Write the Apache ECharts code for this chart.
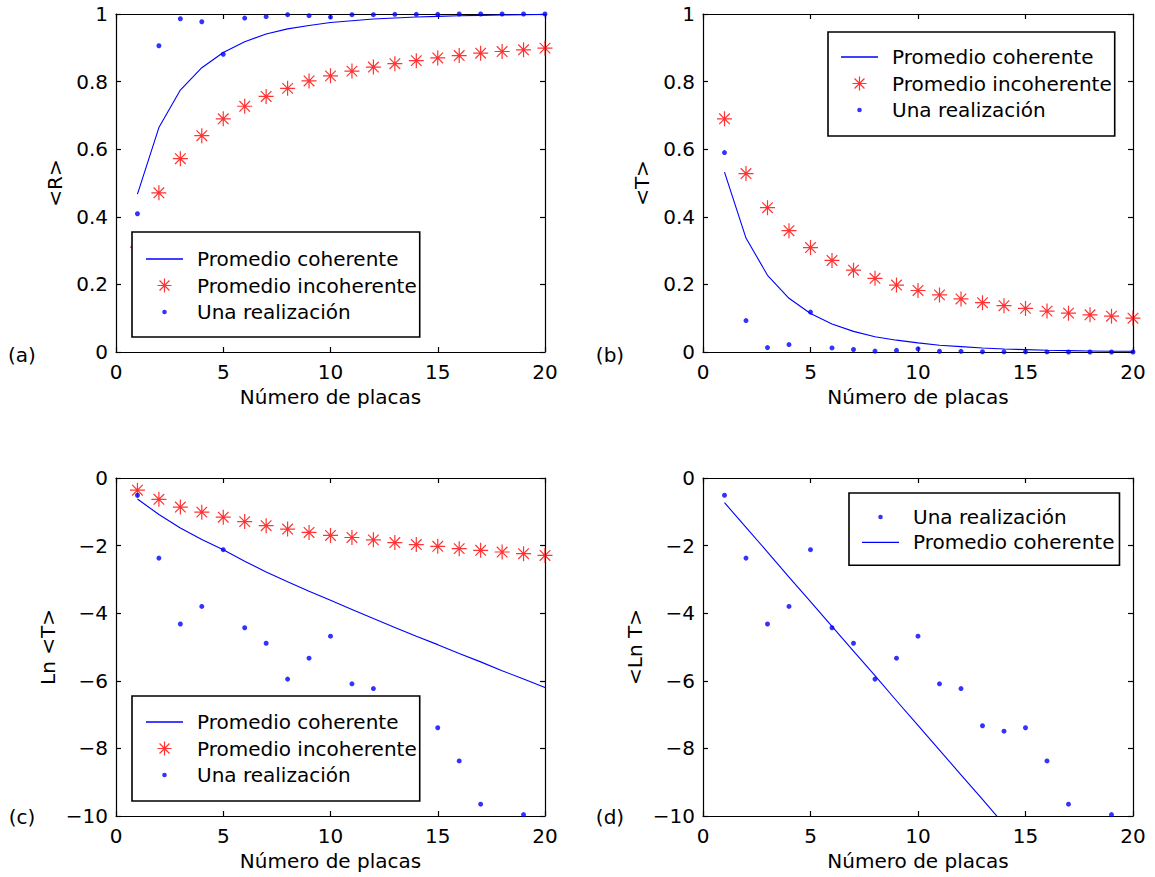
<!DOCTYPE html>
<html>
<head>
<meta charset="utf-8">
<script src="https://cdn.jsdelivr.net/npm/echarts@6/dist/echarts.min.js"></script>
<style>
html,body{margin:0;padding:0;background:#fff;}
#chart{width:1155px;height:877px;}
</style>
</head>
<body>
<div id="chart"></div>
<script>
// ---------------- DATA ----------------
const placas = [1,2,3,4,5,6,7,8,9,10,11,12,13,14,15,16,17,18,19,20];

const seriesNames = ['Promedio coherente', 'Promedio incoherente', 'Una realización'];
const panelLabels = ['(a)', '(b)', '(c)', '(d)'];
const xAxisName = 'Número de placas';
const yAxisNames = ['<R>', '<T>', 'Ln <T>', '<Ln T>'];

// (a) reflectance
const rCoherente = [0.467,0.664,0.775,0.841,0.886,0.918,0.941,0.956,0.966,0.975,0.980,0.985,0.988,0.991,0.993,0.995,0.996,0.997,0.998,0.999];
const rIncoherente = [0.31,0.471,0.572,0.640,0.690,0.727,0.756,0.780,0.802,0.817,0.831,0.843,0.853,0.862,0.870,0.877,0.884,0.889,0.894,0.899];
const rRealizacion = [0.409,0.906,0.986,0.977,0.881,0.988,0.992,0.998,0.995,0.991,0.998,0.998,0.999,0.999,0.999,1.0,1.0,1.0,1.0,1.0];

// (b) transmittance
const tCoherente = [0.532,0.337,0.227,0.159,0.114,0.083,0.061,0.045,0.035,0.027,0.020,0.016,0.012,0.009,0.007,0.005,0.004,0.003,0.002,0.002];
const tIncoherente = [0.690,0.528,0.427,0.359,0.309,0.271,0.242,0.218,0.198,0.182,0.169,0.157,0.146,0.137,0.129,0.121,0.115,0.110,0.106,0.100];
const tRealizacion = [0.590,0.093,0.013,0.022,0.118,0.012,0.0075,0.0026,0.0048,0.0093,0.0023,0.0020,0.0007,0.0006,0.0006,0.0002,0.0001,0.0000,0.0000,0.0000];

// (c) Ln <T>
const lnTCoherente = [-0.62,-1.08,-1.48,-1.82,-2.12,-2.46,-2.78,-3.07,-3.35,-3.62,-3.89,-4.16,-4.42,-4.68,-4.93,-5.19,-5.44,-5.70,-5.95,-6.20];
const lnTIncoherente = [-0.36,-0.63,-0.86,-1.01,-1.16,-1.29,-1.41,-1.51,-1.61,-1.70,-1.76,-1.83,-1.91,-1.97,-2.02,-2.09,-2.14,-2.19,-2.24,-2.29];
// (c),(d) ln T of one realization (points below -10 are off the chart)
const lnTRealizacion = [-0.51,-2.37,-4.32,-3.80,-2.12,-4.43,-4.89,-5.95,-5.33,-4.68,-6.09,-6.23,-7.33,-7.49,-7.39,-8.37,-9.65,null,-9.96,null];

// (d) <Ln T> coherent average (straight line, leaves the chart near 13.7)
const placasLnMedio = [1,2,3,4,5,6,7,8,9,10,11,12,13,14];
const lnMedioCoherente = [-0.73,-1.46,-2.19,-2.93,-3.66,-4.39,-5.12,-5.85,-6.59,-7.32,-8.05,-8.78,-9.51,-10.25];

// axis ranges
const xRange = {min: 0, max: 20, interval: 5};
const yRanges = [
  {min: 0, max: 1, interval: 0.2},
  {min: 0, max: 1, interval: 0.2},
  {min: -10, max: 0, interval: 2},
  {min: -10, max: 0, interval: 2}
];

// ---------------- STYLE ----------------
const FONT = 'DejaVu Sans';
const FS = 20;
const BLUE = '#0000ff';
const RED = '#ff0000';
const STAR = 'path://M0 7.5H15M7.5 0V15M2.2 2.2L12.8 12.8M12.8 2.2L2.2 12.8';
const ICON_LINE = 'path://M0 0H37V1.3H0Z';
const ICON_STAR = 'path://M0 6.5H13M6.5 0V13M1.9 1.9L11.1 11.1M11.1 1.9L1.9 11.1';
const ICON_DOT = 'path://M0 0M37 14M16.2 7A2.3 2.3 0 1 1 20.8 7A2.3 2.3 0 1 1 16.2 7Z';

const grids = [
  {left: 116, top: 14, width: 429, height: 338},
  {left: 703, top: 14, width: 430, height: 338},
  {left: 116, top: 478, width: 429, height: 338},
  {left: 703, top: 478, width: 430, height: 338}
];
const yNameGaps = [51, 51, 58, 58];
const labelPos = [[22, 355], [610, 355], [22, 817], [610, 817]];

function zip(xs, ys) { return xs.map((x, i) => [x, ys[i]]); }
function fmt(v) { return String(parseFloat(Number(v).toFixed(4))).replace('-', '\u2212'); }

const axisLineStyle = {color: '#000', width: 1.2};
const xAxes = [], yAxes = [];
grids.forEach((g, gi) => {
  xAxes.push({
    gridIndex: gi, type: 'value', position: 'bottom', ...xRange,
    name: xAxisName, nameLocation: 'middle', nameGap: 35,
    nameTextStyle: {fontFamily: FONT, fontSize: FS, color: '#000'},
    axisLine: {show: true, onZero: false, lineStyle: axisLineStyle},
    axisTick: {show: true, inside: true, length: 5, lineStyle: axisLineStyle},
    axisLabel: {margin: 10, color: '#000', fontFamily: FONT, fontSize: FS, formatter: fmt},
    splitLine: {show: false}
  });
  xAxes.push({
    gridIndex: gi, type: 'value', position: 'top', ...xRange,
    axisLine: {show: true, onZero: false, lineStyle: axisLineStyle},
    axisTick: {show: true, inside: true, length: 5, lineStyle: axisLineStyle},
    axisLabel: {show: false}, splitLine: {show: false}
  });
  yAxes.push({
    gridIndex: gi, type: 'value', position: 'left', ...yRanges[gi],
    name: yAxisNames[gi], nameLocation: 'middle', nameGap: yNameGaps[gi],
    nameTextStyle: {fontFamily: FONT, fontSize: FS, color: '#000'},
    axisLine: {show: true, onZero: false, lineStyle: axisLineStyle},
    axisTick: {show: true, inside: true, length: 5, lineStyle: axisLineStyle},
    axisLabel: {margin: 8, color: '#000', fontFamily: FONT, fontSize: FS, formatter: fmt},
    splitLine: {show: false}
  });
  yAxes.push({
    gridIndex: gi, type: 'value', position: 'right', ...yRanges[gi],
    axisLine: {show: true, onZero: false, lineStyle: axisLineStyle},
    axisTick: {show: true, inside: true, length: 5, lineStyle: axisLineStyle},
    axisLabel: {show: false}, splitLine: {show: false}
  });
});

function lineSeries(gi, xs, ys) {
  return {
    type: 'line', name: seriesNames[0], xAxisIndex: gi * 2, yAxisIndex: gi * 2,
    data: zip(xs, ys), symbol: 'none', clip: true, silent: true,
    lineStyle: {color: BLUE, width: 1.1}, itemStyle: {color: BLUE}, z: 2
  };
}
function starSeries(gi, ys) {
  return {
    type: 'scatter', name: seriesNames[1], xAxisIndex: gi * 2, yAxisIndex: gi * 2,
    data: zip(placas, ys), symbol: STAR, symbolSize: 15, clip: false, silent: true,
    itemStyle: {color: 'transparent', borderColor: RED, borderWidth: 1.2}, z: 3
  };
}
function dotSeries(gi, ys) {
  return {
    type: 'scatter', name: seriesNames[2], xAxisIndex: gi * 2, yAxisIndex: gi * 2,
    data: zip(placas, ys), symbol: 'circle', symbolSize: 5, clip: false, silent: true,
    itemStyle: {color: BLUE, borderWidth: 0}, z: 4
  };
}

const series = [
  lineSeries(0, placas, rCoherente), starSeries(0, rIncoherente), dotSeries(0, rRealizacion),
  lineSeries(1, placas, tCoherente), starSeries(1, tIncoherente), dotSeries(1, tRealizacion),
  lineSeries(2, placas, lnTCoherente), starSeries(2, lnTIncoherente), dotSeries(2, lnTRealizacion),
  dotSeries(3, lnTRealizacion), lineSeries(3, placasLnMedio, lnMedioCoherente)
];

const legendItem = {
  [seriesNames[0]]: {name: seriesNames[0], icon: ICON_LINE, itemStyle: {color: BLUE, borderWidth: 0}},
  [seriesNames[1]]: {name: seriesNames[1], icon: ICON_STAR, itemStyle: {color: 'transparent', borderColor: RED, borderWidth: 1.2}},
  [seriesNames[2]]: {name: seriesNames[2], icon: ICON_DOT, itemStyle: {color: BLUE, borderWidth: 0}}
};
function legend(left, top, padding, gap, names) {
  return {
    orient: 'vertical', left: left, top: top, padding: padding, itemGap: gap,
    itemWidth: 37, itemHeight: 14, selectedMode: false,
    backgroundColor: '#fff', borderColor: '#000', borderWidth: 1.6, borderRadius: 0,
    textStyle: {fontFamily: FONT, fontSize: FS, color: '#000', padding: [0, 0, 0, 9]},
    data: names.map(n => legendItem[n]), z: 10
  };
}

const option = {
  animation: false,
  backgroundColor: '#fff',
  grid: grids,
  xAxis: xAxes,
  yAxis: yAxes,
  legend: [
    legend(132, 232, [17, 3, 15, 14], 6.5, seriesNames),
    legend(828, 32, [15, 3, 16, 13], 6.5, seriesNames),
    legend(132, 696, [16, 3, 16, 14], 6.5, seriesNames),
    legend(849, 493, [14, 5, 13, 13], 5.3, [seriesNames[2], seriesNames[0]])
  ],
  graphic: panelLabels.map((t, i) => ({
    type: 'text', x: labelPos[i][0], y: labelPos[i][1], silent: true,
    style: {text: t, font: FS + 'px "' + FONT + '"', fill: '#000', align: 'center', verticalAlign: 'middle'}
  })),
  series: series
};

const chart = echarts.init(document.getElementById('chart'), null, {renderer: 'svg'});
chart.setOption(option);
</script>
</body>
</html>
